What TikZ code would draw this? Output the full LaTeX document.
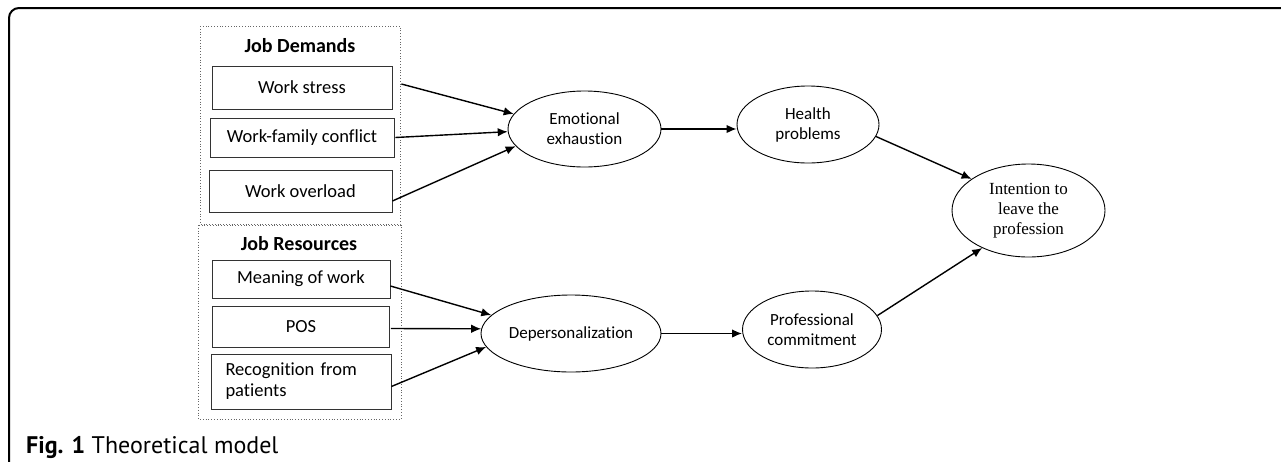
\documentclass[tikz,border=0pt]{standalone}
\usepackage{fontspec}
\setmainfont{Carlito}[Ligatures=NoCommon]
\newfontfamily\serifpart{Liberation Serif}
\newfontfamily\captionpart{PT Sans}
\usepackage{tikz}
\usetikzlibrary{shapes.geometric, arrows.meta, positioning}

\begin{document}
\begin{tikzpicture}[x=1pt, y=-1pt, node distance=50pt, auto]
        \tikzstyle{block} = [rectangle, draw=black!80, line width=0.8pt, minimum width=180pt, align=center, inner sep=0pt, font=\fontsize{18.5}{21}\selectfont]
        \tikzstyle{latent} = [ellipse, draw, line width=0.9pt, inner sep=0pt, align=center, font=\fontsize{17}{20}\selectfont]
        \tikzstyle{title} = [font=\fontsize{20}{24}\selectfont\bfseries]
        \tikzstyle{group} = [draw=black!60, dotted, line width=0.8pt]
        \tikzstyle{line} = [draw, -{Latex[length=10pt, width=8.5pt]}, line width=1.4pt]

        \useasboundingbox (0,0) rectangle (1281,461);
        \clip (0,0) rectangle (1281,461);
        \draw [line width=2pt, rounded corners=10pt] (9,480) |- (1300,8);

        % Groups
        \draw [group] (200,26) rectangle (400,224);
        \draw [group] (198,225) rectangle (401,419);
        \node [title] (demands) at (300,46) {Job Demands};
        \node [title] (resources) at (299,244) {Job Resources};

        % Nodes
        \node [block, minimum height=43pt] (stress) at (302,87.5) {Work stress};
        \node [block, below of=stress, minimum height=39pt, minimum width=184pt] (conflict) {Work-family conflict};
        \node [block, below of=conflict, yshift=-3.5pt, minimum height=42pt, minimum width=183pt, xshift=-1.5pt] (overload) {Work overload};
        \node [block, minimum height=38pt, minimum width=178pt] (meaning) at (301,279) {Meaning of work};
        \node [block, below of=meaning, yshift=2.5pt, minimum height=41pt, minimum width=177pt] (pos) {POS};
        \node [block, below of=pos, yshift=-5pt, minimum height=55pt, text width=151pt, inner xsep=13pt, align=left] (recognition) {Recognition from\\patients};

        \node [latent, minimum width=153pt, minimum height=76pt] (exhaustion) at (584.5,129) {Emotional\\exhaustion};
        \node [latent, minimum width=180pt, minimum height=77pt] (deperson) at (571,333.5) {Depersonalization};
        \node [latent, minimum width=142pt, minimum height=77pt] (health) at (808,124.5) {Health\\problems};
        \node [latent, minimum width=139pt, minimum height=77pt] (commitment) at (812,329.5) {Professional\\commitment};
        \node [latent, minimum width=153pt, minimum height=93pt, font=\serifpart\fontsize{17}{20}\selectfont] (intention) at (1028.5,210.5) {Intention to\\leave the\\profession};

        % Paths
        \path [line] ([shift={(9,-3.5)}]stress.east) -- (exhaustion.168);
        \path [line] ([xshift=1pt]conflict.east) -- (exhaustion.182);
        \path [line] ([yshift=-10pt]overload.east) -- (exhaustion.194);
        \path [line] ([yshift=-7pt]meaning.east) -- (deperson.167.6);
        \path [line] ([xshift=1pt, yshift=-2pt]pos.east) -- (deperson.177.7);
        \path [line] ([yshift=-5pt]recognition.east) -- (deperson.189.5);
        \path [line] (exhaustion.east) -- (exhaustion.east -| health.west);
        \path [line] (deperson.east) -- (deperson.east -| commitment.west);
        \path [line] (health.-10) -- (intention.151.8);
        \path [line] (commitment.12) -- (intention.219.3);

        % Caption
        \node [anchor=west, inner sep=0pt, font=\captionpart\fontsize{24}{28}\selectfont] (caption) at (26,447) {\textbf{Fig. 1} Theoretical model};
    \end{tikzpicture}
\end{document}
